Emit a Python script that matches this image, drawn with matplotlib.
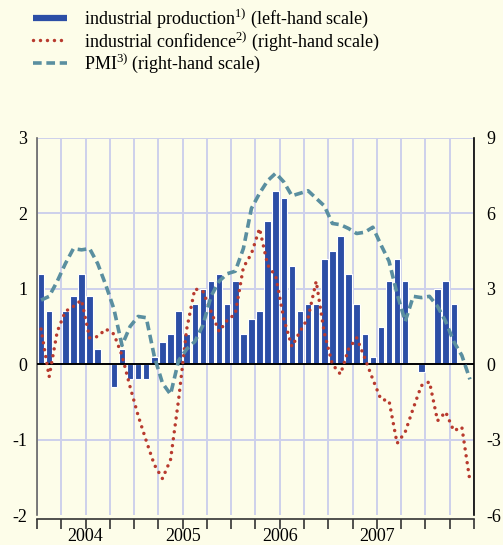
import numpy as np
import matplotlib.pyplot as plt
from matplotlib.lines import Line2D

plt.rcParams['font.family'] = ['Liberation Serif', 'DejaVu Serif']
plt.rcParams['mathtext.fontset'] = 'custom'
plt.rcParams['mathtext.rm'] = 'Liberation Serif'
plt.rcParams['mathtext.it'] = 'Liberation Serif:italic'
plt.rcParams['axes.unicode_minus'] = False

BG = '#fdfde9'
BLUE = '#2c4ea6'
RED = '#b83a2e'
TEAL = '#5a8fa0'
GRID = '#cdd0ec'

years = ['2004', '2005', '2006', '2007']

# monthly data, Jan 2004 onwards
ind_production = [1.2, 0.7, 0.0, 0.7, 0.9, 1.2, 0.9, 0.2, 0.0, -0.3, 0.2, -0.2,
                  -0.2, -0.2, 0.1, 0.3, 0.4, 0.7, 0.4, 0.8, 1.0, 1.1, 1.2, 0.8,
                  1.1, 0.4, 0.6, 0.7, 1.9, 2.3, 2.2, 1.3, 0.7, 0.8, 0.8, 1.4,
                  1.5, 1.7, 1.2, 0.8, 0.4, 0.1, 0.5, 1.1, 1.4, 1.1, 0.0, -0.1,
                  0.0, 1.0, 1.1, 0.8]

ind_confidence = [1.4, -0.5, 1.3, 2.1, 2.3, 2.55, 1.05, 1.1, 1.4, 1.2, 0.35, -0.9,
                  -2.05, -3.05, -4.0, -4.55, -3.8, -1.4, 1.4, 3.0, 2.9, 2.1, 1.3, 1.75,
                  2.0, 3.85, 4.4, 5.4, 3.95, 3.5, 1.8, 0.7, 1.3, 1.85, 3.3, 1.25,
                  0.0, -0.4, 0.6, 1.05, 0.25, -0.6, -1.4, -1.45, -3.15, -2.7, -1.75, -0.85,
                  -0.7, -2.25, -1.9, -2.65, -2.5, -4.65]

pmi = [2.55, 2.7, 3.3, 4.0, 4.6, 4.55, 4.6, 4.0, 3.15, 2.2, 0.75, 1.5,
       1.9, 1.85, 0.3, -0.75, -1.2, 0.15, 0.6, 0.9, 1.55, 2.7, 3.3, 3.6,
       3.7, 4.6, 6.2, 6.8, 7.3, 7.6, 7.25, 6.7, 6.8, 6.9, 6.6, 6.3,
       5.6, 5.55, 5.4, 5.2, 5.25, 5.45, 4.75, 4.1, 2.8, 1.7, 2.7, 2.65,
       2.7, 2.3, 1.7, 0.9, 0.35, -0.6]

fig = plt.figure(figsize=(5.03, 5.45), dpi=100, facecolor=BG)
ax = fig.add_axes([0.0736, 0.055, 0.8687, 0.6918], facecolor=BG)

x_ip = np.arange(len(ind_production)) + 0.5
x_conf = np.arange(len(ind_confidence)) + 0.5
x_pmi = np.arange(len(pmi)) + 0.5

ax.bar(x_ip, ind_production, width=0.8, color=BLUE, edgecolor='white',
       linewidth=0.8, zorder=2)

ax.set_xlim(0, 54)
ax.set_ylim(-2, 3)
ax.set_yticks([-2, -1, 0, 1, 2, 3])
ax.set_yticklabels(['-2', '-1', '0', '1', '2', '3'])

# quarter ticks + grid, year labels in the middle of each year
ax.xaxis.remove_overlapping_locs = False
ax.set_xticks(np.arange(0, 55, 3))
ax.set_xticklabels([])
ax.set_xticks([6, 18, 30, 42], minor=True)
ax.set_xticklabels(years, minor=True)
ax.grid(True, axis='both', which='major', color=GRID, linewidth=1.4, zorder=0)
ax.set_axisbelow(True)
ax.yaxis.get_gridlines()[0].set_visible(False)

ax.tick_params(axis='y', length=0, pad=7, labelsize=13)
ax.tick_params(axis='x', which='major', direction='out', length=7, width=1.2,
               color='#333333')
ax.tick_params(axis='x', which='minor', length=0, pad=6.5, labelsize=13)

ax.spines['top'].set_visible(False)
ax.spines['right'].set_visible(False)
ax.spines['left'].set_color('#666666')
ax.spines['left'].set_linewidth(1.2)
ax.spines['bottom'].set_position(('outward', 3))
ax.spines['bottom'].set_color('#333333')
ax.spines['bottom'].set_linewidth(1.2)

ax2 = ax.twinx()
ax2.set_ylim(-6, 9)
ax2.set_yticks([-6, -3, 0, 3, 6, 9])
ax2.set_yticklabels(['-6', '-3', '0', '3', '6', '9'])
ax2.tick_params(axis='y', length=0, pad=9, labelsize=13)
for s in ['top', 'left', 'bottom']:
    ax2.spines[s].set_visible(False)
ax2.spines['right'].set_color('black')
ax2.spines['right'].set_linewidth(1.2)

ax2.axhline(0, color='black', linewidth=1.4, zorder=3)
ax2.plot(x_conf, ind_confidence, color=RED, linewidth=2.5,
         linestyle=(0, (0.01, 2.0)), dash_capstyle='round', zorder=4)
ax2.plot(x_pmi, pmi, color=TEAL, linewidth=2.6,
         linestyle=(0, (2.4, 1.3)), dash_capstyle='butt', zorder=5)

handles = [
    Line2D([], [], color=BLUE, linewidth=4.5, solid_capstyle='butt'),
    Line2D([], [], color=RED, linewidth=2.5, linestyle=(0, (0.01, 2.0)),
           dash_capstyle='round'),
    Line2D([], [], color=TEAL, linewidth=2.6, linestyle=(0, (2.4, 1.3))),
]
labels = [
    'industrial production$^{1)}$ (left-hand scale)',
    'industrial confidence$^{2)}$ (right-hand scale)',
    'PMI$^{3)}$ (right-hand scale)',
]
fig.legend(handles, labels, loc='upper left', bbox_to_anchor=(0.052, 1.0),
           frameon=False, fontsize=13, handlelength=1.85, handletextpad=0.95,
           labelspacing=-0.05, borderaxespad=0)

plt.savefig('out.png', dpi=100, facecolor=BG)
